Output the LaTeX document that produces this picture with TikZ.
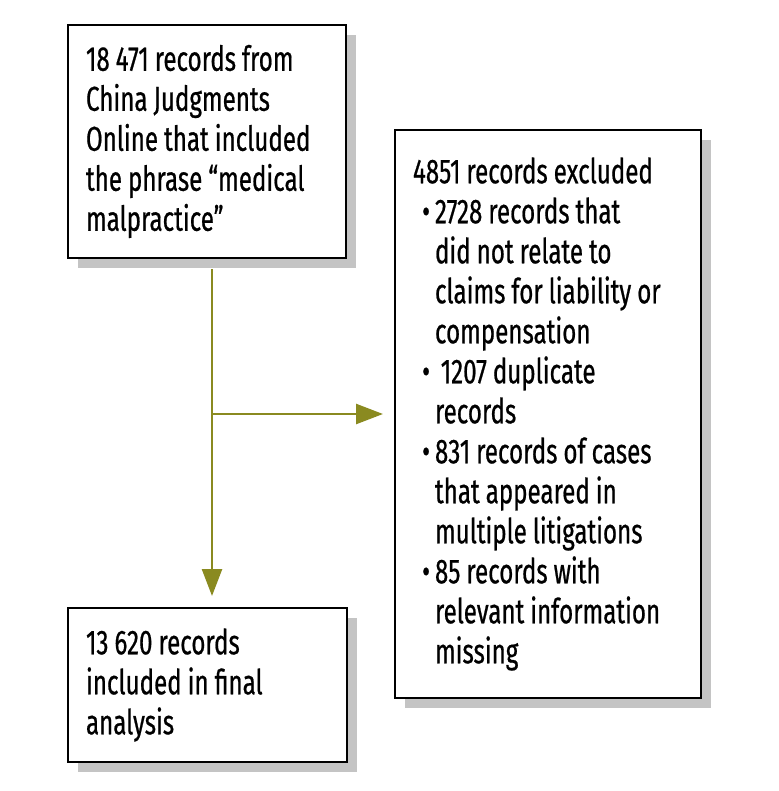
\documentclass[tikz,border=0pt]{standalone}
\usepackage{fontspec}
\setmainfont[FakeStretch=0.7, FakeBold=0.6]{Fira Sans}
\usetikzlibrary{arrows.meta,shadows,positioning}
\definecolor{flowolive}{RGB}{138,138,32}
\definecolor{shadowgray}{RGB}{196,196,196}
\newcommand\tightspace{\spaceskip=6pt plus 1pt\relax\xspaceskip=6pt plus 1pt\relax}
\newcommand\itm{\makebox[22pt][r]{•\hspace{5pt}}}
\newcommand\ind{\hspace*{22pt}}

\begin{document}
\begin{tikzpicture}[x=1pt,y=1pt,
    box/.style={draw=black, line width=2pt, fill=white, anchor=north west, align=left,
      inner xsep=18pt, inner ysep=0pt, font=\fontsize{34.5}{40}\selectfont,
      execute at begin node=\tightspace,
      drop shadow={shadow xshift=10pt, shadow yshift=-10pt, fill=shadowgray, opacity=1}},
    flow/.style={draw=flowolive, line width=2.5pt, -{Triangle[length=27pt,width=20pt]}}]

  \useasboundingbox (0,0) rectangle (778,-791);

  % the three boxes
  \node[box, minimum width=278pt, minimum height=233pt, text width=242pt] (src) at (67,-24)
    {18 471 records from\\ China Judgments\\ Online that included\\ the phrase “medical\\ malpractice”};

  \node[box, minimum width=306pt, minimum height=568pt, text width=270pt] (excl) at (394,-129)
    {4851 records excluded\\
     \itm 2728 records that\\ \ind did not relate to\\ \ind claims for liability or\\ \ind compensation\\
     \itm\,1207 duplicate\\ \ind records\\
     \itm 831 records of cases\\ \ind that appeared in\\ \ind multiple litigations\\
     \itm 85 records with\\ \ind relevant information\\ \ind missing};

  \node[box, minimum width=279pt, minimum height=154pt, text width=243pt] (final) at (67,-607)
    {13 620 records\\ included in final\\ analysis};

  % arrows
  \coordinate (split) at ([xshift=5pt]src.south |- excl.west);
  \draw[flow, shorten <=10pt, shorten >=11pt] ([xshift=5pt]src.south) -- ([xshift=5pt]src.south |- final.north);
  \draw[flow, shorten >=11pt] (split) -- (excl.west);

\end{tikzpicture}
\end{document}
